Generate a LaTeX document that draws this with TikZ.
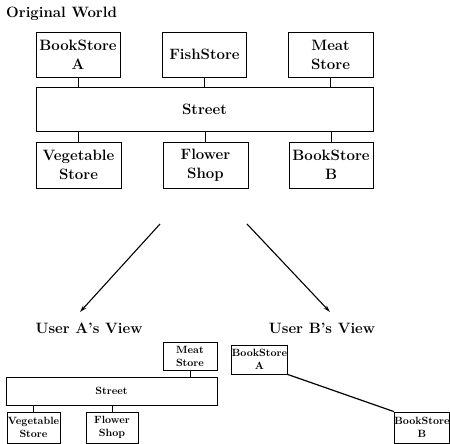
\documentclass[tikz,border=0pt]{standalone}
\usepackage{amsmath}
\usepackage{tikz}
\usetikzlibrary{positioning,arrows.meta}

\tikzset{
  store/.style={draw, line width=0.9pt, align=center, inner sep=0pt,
    font=\bfseries\fontsize{15}{19}\selectfont},
  smallstore/.style={draw, line width=0.8pt, align=center, inner sep=0pt,
    font=\bfseries\fontsize{10.5}{13}\selectfont},
  title/.style={font=\bfseries\fontsize{15}{17}\selectfont, inner sep=0pt},
  link/.style={line width=0.8pt},
  viewarrow/.style={line width=1.1pt, -{Stealth[length=7pt,width=4pt]}}
}

\begin{document}
\begin{tikzpicture}[x=1pt,y=1pt,yscale=-1,xscale=1]
\useasboundingbox (0,0) rectangle (450,444);

% Text Node
\node[title, anchor=west] (world) at (6,14) {Original World};

%Shape: Rectangle -- shops north of the street
\node[store, minimum width=84, minimum height=45] (bookA) at (78,54.5) {BookStore\\A};
\node[store, minimum width=84, minimum height=45] (fish) at (204.5,54.5) {FishStore};
\node[store, minimum width=85, minimum height=45] (meat) at (330.5,54.5) {Meat\\Store};

%Shape: Rectangle -- the street
\node[store, minimum width=337, minimum height=44] (street) at (204.5,109.5) {Street};

%Shape: Rectangle -- shops south of the street
\node[store, minimum width=85, minimum height=46] (veg) at (78.5,165) {Vegetable\\Store};
\node[store, minimum width=85, minimum height=46] (flower) at (205.5,165) {Flower\\Shop};
\node[store, minimum width=84, minimum height=46] (bookB) at (331,165) {BookStore\\B};

%Straight Lines
\draw[link] (bookA.south) -- (bookA.south |- street.north);
\draw[link] (fish.south) -- (fish.south |- street.north);
\draw[link] (meat.south) -- (meat.south |- street.north);
\draw[link] (veg.north) -- (veg.north |- street.south);
\draw[link] (flower.north) -- (flower.north |- street.south);
\draw[link] (bookB.north) -- (bookB.north |- street.south);

% Text Node
\node[title] (viewA) at (89,328) {User A's View};
\node[title] (viewB) at (322,328) {User B's View};

%Straight Lines -- arrows down to the two views
\coordinate (fromA) at (160,224);
\coordinate (toA) at (80,312);
\coordinate (fromB) at (247,224);
\coordinate (toB) at (330,312);
\draw[viewarrow] (fromA) -- (toA);
\draw[viewarrow] (fromB) -- (toB);

%Shape: Rectangle -- user A sees part of the street
\node[smallstore, minimum width=54, minimum height=28] (meatA) at (190,356) {Meat\\Store};
\node[smallstore, minimum width=211, minimum height=28] (streetA) at (111.5,391) {Street};
\node[smallstore, minimum width=53, minimum height=31] (vegA) at (33.5,427.5) {Vegetable\\Store};
\node[smallstore, minimum width=52, minimum height=31] (flowerA) at (112,427.5) {Flower\\Shop};

\draw[link] (meatA.south) -- (meatA.south |- streetA.north);
\draw[link] (vegA.north) -- (vegA.north |- streetA.south);
\draw[link] (flowerA.north) -- (flowerA.north |- streetA.south);

%Shape: Rectangle -- user B sees only the two book stores
\node[smallstore, minimum width=55, minimum height=29] (bookAB) at (259.5,359.5) {BookStore\\A};
\node[smallstore, minimum width=54, minimum height=31] (bookBB) at (422,427.5) {BookStore\\B};

\draw[line width=1.2pt] (bookAB.south east) -- (bookBB.north west);

\end{tikzpicture}
\end{document}
